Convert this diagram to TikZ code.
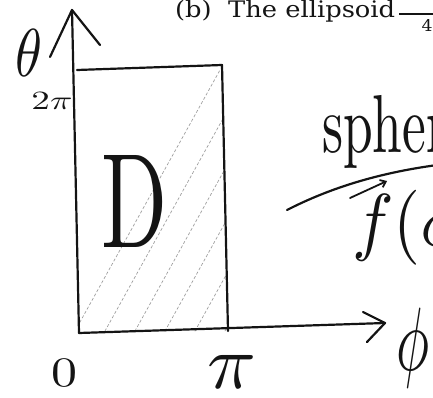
\documentclass[tikz,border=0pt]{standalone}
\usepackage{amsmath}
\usepackage{graphicx}
\usepackage{fontspec}
\usepackage{xcolor}
\usepackage{tikz}
\usetikzlibrary{arrows.meta,positioning,calc}
\newfontfamily\titlefont{DejaVu Serif}
\definecolor{hink}{HTML}{141414}
\definecolor{hgrey}{HTML}{A0A0A0}

\tikzset{
  pen/.style={hink,line width=2.2pt,line cap=round,line join=round},
  hatch/.style={hgrey,line width=0.7pt,dash pattern=on 3pt off 2pt},
}
% fit a text into a box of given width and total height
\newcommand{\fitto}[3]{\resizebox*{#1}{#2}{#3}}

\begin{document}
\begin{tikzpicture}[x=1pt,y=-1pt,every node/.style={inner sep=0pt,text=hink}]
  \useasboundingbox (0,0) rectangle (433,398);

  \coordinate (O)    at (79,333);
  \coordinate (ttip) at (72,10);
  \coordinate (tarmL) at (50,57);
  \coordinate (tarmR) at (100,45);
  \coordinate (ptip) at (385,323);
  \coordinate (parmT) at (363,312);
  \coordinate (parmB) at (367,342);
  \coordinate (tl) at (77,70);
  \coordinate (tr) at (222,65);
  \coordinate (br) at (228,331);

  % shaded region
  \begin{scope}
    \clip (tl) -- (tr) -- (br) -- (O) -- cycle;
    \foreach \x in {70,100,...,310}
      \draw[hatch] (\x,340) -- ++(150,-270);
  \end{scope}

  \draw[pen] (O) -- (ttip);
  \draw[pen] (tarmL) -- (ttip) -- (tarmR);
  \draw[pen] (O) -- (ptip);
  \draw[pen] (parmT) -- (ptip) -- (parmB);
  \draw[pen] (tl) -- (tr) -- (br);

  \node (theta) at (29,53)  {\fitto{27pt}{47pt}{$\theta$}};
  \node (twopi) at (52,101) {\fitto{41pt}{17pt}{$2\pi$}};
  \node (zero)  at (64,373) {\fitto{26pt}{27pt}{$0$}};
  \node (pi)    at (232,372) {\fitto{49pt}{33pt}{$\pi$}};
  \node (phi)   at (413,348) {\fitto{33pt}{80pt}{$\phi$}};
  \node (D)     at (135,201) {\fitto{66pt}{92pt}{D}};

  \node[anchor=north west] (title) at (175,0.5) {\fitto{220pt}{22pt}{\titlefont (b)\ \ The ellipsoid}};
  \draw[hink,line width=1.3pt] (399,14) -- (440,14);
  \node (four) at (427,26) {\fitto{11pt}{12pt}{\titlefont 4}};

  \node[anchor=north west] (sph) at (322,95) {\fitto{125pt}{73pt}{spher}};
  \coordinate (cs) at (287,210);
  \coordinate (ce) at (445,164);
  \draw[pen] (cs) .. controls (330,188) and (380,172) .. (ce);
  \node[anchor=north west] (fphi) at (352,190) {\fitto{110pt}{75pt}{$f(\phi$}};
  \coordinate (vs) at (350,198);
  \coordinate (ve) at (387,181);
  \draw[pen,line width=1.8pt,-{Straight Barb[length=5pt,width=8pt]}] (vs) -- (ve);
\end{tikzpicture}
\end{document}
